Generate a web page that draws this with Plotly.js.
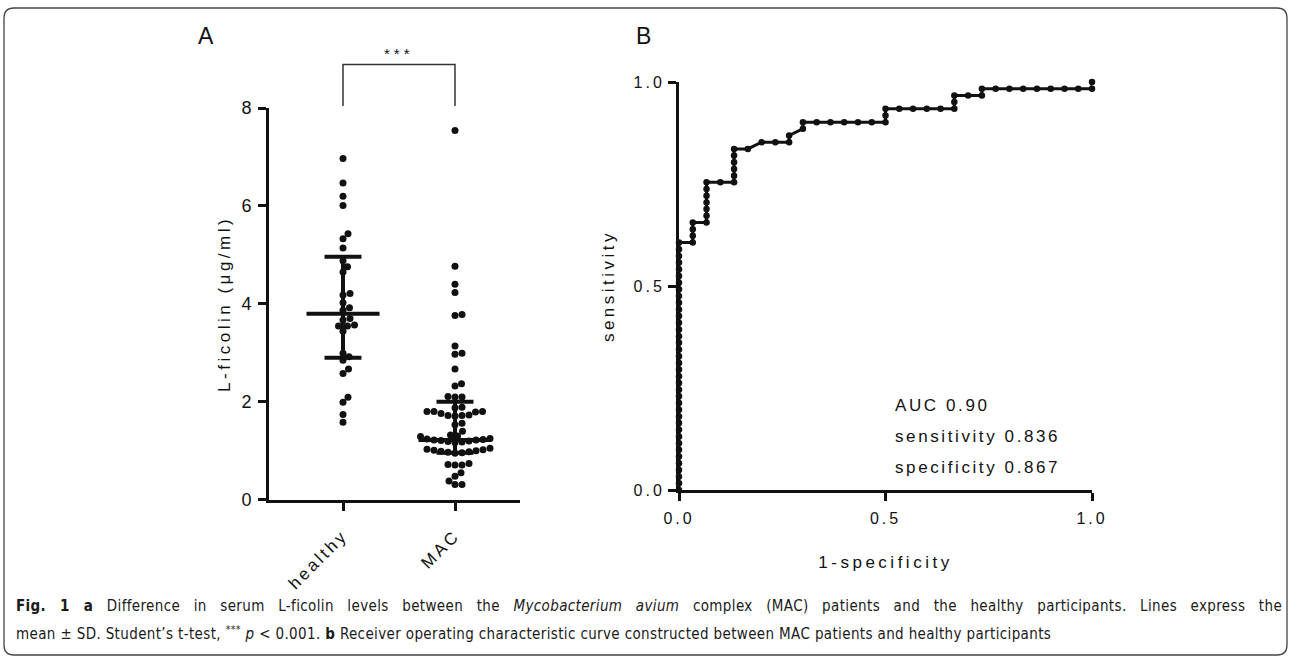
<!DOCTYPE html>
<html><head><meta charset="utf-8">
<script src="https://cdn.plot.ly/plotly-3.0.1.min.js"></script>
<style>
html,body{margin:0;padding:0;background:#fff;}
#chart{width:1292px;height:658px;}
.xtick text,.ytick text,.x2tick text,.y2tick text{letter-spacing:3px;}
text.xtitle,text.ytitle,text.x2title,text.y2title{letter-spacing:3.5px;}
</style>
</head><body><div id="chart"></div>
<script>
// ---------------- data ----------------
const groups = ['healthy', 'MAC'];
const healthyValues = [6.97, 6.47, 6.20, 6.01, 5.43, 5.33, 5.14, 4.88, 4.76, 4.65,
  4.21, 4.18, 4.02, 3.92, 3.87, 3.70, 3.67, 3.57, 3.55, 3.55,
  3.44, 2.99, 2.92, 2.85, 2.67, 2.58, 2.09, 1.99, 1.74, 1.58];
const macValues = [7.54, 4.77, 4.40, 4.23, 3.78, 3.76, 3.14, 2.99, 2.97, 2.67,
  2.37, 2.32, 2.11, 2.10, 2.10,
  1.89, 1.88, 1.80, 1.80, 1.80, 1.79, 1.76, 1.73, 1.72, 1.72, 1.71,
  1.56, 1.53, 1.40, 1.32, 1.30, 1.29,
  1.25, 1.24, 1.23, 1.22, 1.22, 1.21, 1.20, 1.19, 1.18, 1.17,
  1.05, 1.03, 1.01, 1.00, 0.99, 0.98, 0.97, 0.96, 0.95, 1.02,
  0.74, 0.72, 0.71, 0.71, 0.55, 0.48, 0.38, 0.31, 0.31];
const lineCenter = [3.80, 1.22];
const lineUpper = [4.96, 2.00];
const lineLower = [2.90, 0.96];
const yTicksA = [0, 2, 4, 6, 8];

const nHealthy = 30, nMAC = 61;
const rocFP = [0,0,0,0,0,0,0,0,0,0, 0,0,0,0,0,0,0,0,0,0, 0,0,0,0,0,0,0,0,0,0, 0,0,0,0,0,0,0,0,
  1,1,1,1, 2,2,2,2,2,2,2, 3, 4,4,4,4,4,4, 5, 6, 7, 8, 8, 9, 9,
  10,11,12,13,14,15, 15,15, 16,17,18,19,20, 20,20, 21, 22,22,
  23,24,25,26,27,28,29,30, 30];
const rocTP = [0,1,2,3,4,5,6,7,8,9, 10,11,12,13,14,15,16,17,18,19, 20,21,22,23,24,25,26,27,28,29, 30,31,32,33,34,35,36,37,
  37,38,39,40, 40,41,42,43,44,45,46, 46, 46,47,48,49,50,51, 51, 52, 52, 52, 53, 54, 55,
  55,55,55,55,55,55, 56,57, 57,57,57,57,57, 58,59, 59, 59,60,
  60,60,60,60,60,60,60,60, 61];
const rocTicks = [0, 0.5, 1];
const rocStats = ['AUC 0.90', 'sensitivity 0.836', 'specificity 0.867'];

// ---------------- geometry ----------------
const W = 1292, H = 658;
const px = v => v / W, py = v => 1 - v / H;
const domXA = [px(269), px(520)], rangeXA = [-0.6607, 1.5804];
const domYA = [py(499.7), py(108)], rangeYA = [0, 8];
const domXB = [px(679), px(1092)], rangeXB = [0, 1];
const domYB = [py(490), py(82)], rangeYB = [0, 1];
const xA = v => domXA[0] + (v - rangeXA[0]) / (rangeXA[1] - rangeXA[0]) * (domXA[1] - domXA[0]);
const yA = v => domYA[0] + (v - rangeYA[0]) / (rangeYA[1] - rangeYA[0]) * (domYA[1] - domYA[0]);
const pxPerX = (domXA[1] - domXA[0]) * W / (rangeXA[1] - rangeXA[0]);
const pxPerY = (domYA[1] - domYA[0]) * H / (rangeYA[1] - rangeYA[0]);

// simple beeswarm in pixel space
function swarm(values, dia) {
  const order = values.map((v, i) => i).sort((a, b) => values[a] - values[b]);
  const placed = [], off = new Array(values.length).fill(0);
  order.forEach(i => {
    const y = values[i] * pxPerY;
    for (let k = 0; k < 1000; k++) {
      const c = k === 0 ? 0 : ((k % 2) ? 1 : -1) * Math.ceil(k / 2) * 0.5;
      if (placed.every(p => (p.x - c) ** 2 + (p.y - y) ** 2 >= dia * dia)) {
        placed.push({x: c, y: y}); off[i] = c / pxPerX; break;
      }
    }
  });
  return off;
}

const ink = '#111';
const traces = [];
[healthyValues, macValues].forEach((vals, g) => {
  const off = swarm(vals, 6.8);
  traces.push({type: 'scatter', mode: 'markers', xaxis: 'x', yaxis: 'y',
    x: vals.map((v, i) => g + off[i]), y: vals, cliponaxis: false,
    marker: {size: 7, color: ink}, hoverinfo: 'y', name: groups[g]});
});
const meanHalf = 0.326, capHalf = 0.165;
groups.forEach((name, g) => {
  traces.push({type: 'scatter', mode: 'lines', xaxis: 'x', yaxis: 'y', cliponaxis: false,
    x: [g - meanHalf, g + meanHalf, null, g - capHalf, g + capHalf, null, g - capHalf, g + capHalf, null, g, g],
    y: [lineCenter[g], lineCenter[g], null, lineUpper[g], lineUpper[g], null, lineLower[g], lineLower[g], null, lineLower[g], lineUpper[g]],
    line: {color: ink, width: 4}, hoverinfo: 'skip', name: name + ' lines'});
});
traces.push({type: 'scatter', mode: 'lines+markers', xaxis: 'x2', yaxis: 'y2', cliponaxis: false,
  x: rocFP.map(v => v / nHealthy), y: rocTP.map(v => v / nMAC),
  line: {color: ink, width: 3}, marker: {size: 6.5, color: ink}, name: 'ROC'});

const font = 'Liberation Sans, Arial, Helvetica, sans-serif';
const axisCommon = {showline: true, linewidth: 3, linecolor: ink, ticks: 'outside', ticklen: 8,
  tickwidth: 3, tickcolor: ink, showgrid: false, zeroline: false, automargin: false};

// frame
const fl = px(4), fr = px(1287), ft = py(8), fb = py(655), rx = px(10), ry = 10 / H;
const framePath = `M ${fl + rx},${ft} L ${fr - rx},${ft} Q ${fr},${ft} ${fr},${ft - ry} L ${fr},${fb + ry} Q ${fr},${fb} ${fr - rx},${fb} L ${fl + rx},${fb} Q ${fl},${fb} ${fl},${fb + ry} L ${fl},${ft - ry} Q ${fl},${ft} ${fl + rx},${ft} Z`;
const bx0 = xA(0), bx1 = xA(1), by0 = yA(8.04), by1 = yA(8.89);

const capFont = 'Liberation Sans Narrow, DejaVu Sans Condensed, Liberation Sans, Arial, sans-serif';
const capSize = 15;
const caption = [
  '<b>Fig. 1 a</b> Difference in serum L-ficolin levels between the <i>Mycobacterium avium</i> complex (MAC) patients and the healthy participants. Lines express the',
  'mean ± SD. Student’s t-test, <sup>***</sup> <i>p</i> &lt; 0.001. <b>b</b> Receiver operating characteristic curve constructed between MAC patients and healthy participants'
];

const annotations = [
  {text: 'A', xref: 'paper', yref: 'paper', x: px(206), y: py(36), xanchor: 'center', yanchor: 'middle', showarrow: false, font: {family: font, size: 23, color: ink}},
  {text: 'B', xref: 'paper', yref: 'paper', x: px(643), y: py(36), xanchor: 'center', yanchor: 'middle', showarrow: false, font: {family: font, size: 23, color: ink}},
  {text: '***', xref: 'paper', yref: 'paper', x: (bx0 + bx1) / 2, y: py(53), xanchor: 'center', yanchor: 'middle', showarrow: false, font: {family: font, size: 15, color: ink}},
];
rocStats.forEach((t, i) => annotations.push({text: t, xref: 'x2', yref: 'y2', x: 0.519, y: [0.208, 0.132, 0.056][i],
  xanchor: 'left', yanchor: 'middle', align: 'left', showarrow: false, font: {family: font, size: 17, color: ink}}));
caption.forEach((t, i) => annotations.push({text: t, xref: 'paper', yref: 'paper', x: px(14), y: py([606, 633][i]),
  xanchor: 'left', yanchor: 'middle', align: 'left', showarrow: false, font: {family: capFont, size: capSize, color: '#1a1a1a'}}));

const layout = {
  width: W, height: H, margin: {l: 0, r: 0, t: 0, b: 0}, showlegend: false,
  paper_bgcolor: '#fff', plot_bgcolor: 'rgba(0,0,0,0)', font: {family: font, color: ink},
  xaxis: Object.assign({}, axisCommon, {domain: domXA, range: rangeXA, anchor: 'y', tickvals: [0, 1], ticktext: groups,
    tickangle: -45, ticklabelstandoff: 8, tickfont: {size: 17, family: font, color: ink}}),
  yaxis: Object.assign({}, axisCommon, {domain: domYA, range: rangeYA, anchor: 'x', tickvals: yTicksA,
    tickfont: {size: 18, family: font, color: ink}, title: {text: 'L-ficolin (μg/ml)', standoff: 7, font: {size: 17, family: font, color: ink}}}),
  xaxis2: Object.assign({}, axisCommon, {domain: domXB, range: rangeXB, anchor: 'y2', tickvals: rocTicks, tickformat: '.1f',
    ticklabelstandoff: 4, tickfont: {size: 16, family: font, color: ink}, title: {text: '1-specificity', standoff: 30, font: {size: 17, family: font, color: ink}}}),
  yaxis2: Object.assign({}, axisCommon, {domain: domYB, range: rangeYB, anchor: 'x2', tickvals: rocTicks, tickformat: '.1f',
    tickfont: {size: 16, family: font, color: ink}, title: {text: 'sensitivity', standoff: 15, font: {size: 17, family: font, color: ink}}}),
  shapes: [
    {type: 'path', xref: 'paper', yref: 'paper', path: framePath, line: {color: '#444', width: 1.3}},
    {type: 'path', xref: 'paper', yref: 'paper', path: `M ${bx0},${by0} L ${bx0},${by1} L ${bx1},${by1} L ${bx1},${by0}`, line: {color: '#333', width: 1.5}},
  ],
  annotations: annotations
};

Plotly.newPlot('chart', traces, layout, {displayModeBar: false, staticPlot: true}).then(gd => {
  const texts = {};
  gd.querySelectorAll('.annotation').forEach(a => {
    const i = +a.getAttribute('data-index');
    const t = a.querySelector('text');
    if (!t) return;
    texts[i] = t;
    if (i >= 3 && i <= 5) t.style.letterSpacing = '2.6px';
    if (i === 2) t.style.letterSpacing = '4px';
  });
  // condense the caption so the last line has its printed width, then justify the first line
  if (texts[6] && texts[7]) {
    const n2 = texts[7].textContent.length;
    const ls = (1036 - texts[7].getBBox().width) / n2;
    texts[6].style.letterSpacing = ls.toFixed(3) + 'px';
    texts[7].style.letterSpacing = ls.toFixed(3) + 'px';
    const w1 = texts[6].getBBox().width;
    const spaces = (texts[6].textContent.match(/ /g) || []).length;
    if (spaces && w1 < 1266) texts[6].style.wordSpacing = ((1266 - w1) / spaces).toFixed(2) + 'px';
  }
  gd.querySelectorAll('text').forEach(t => { if (!t.textContent.trim()) t.remove(); });
  const tester = document.getElementById('js-plotly-tester');
  if (tester) tester.remove();
});
</script>
</body></html>
